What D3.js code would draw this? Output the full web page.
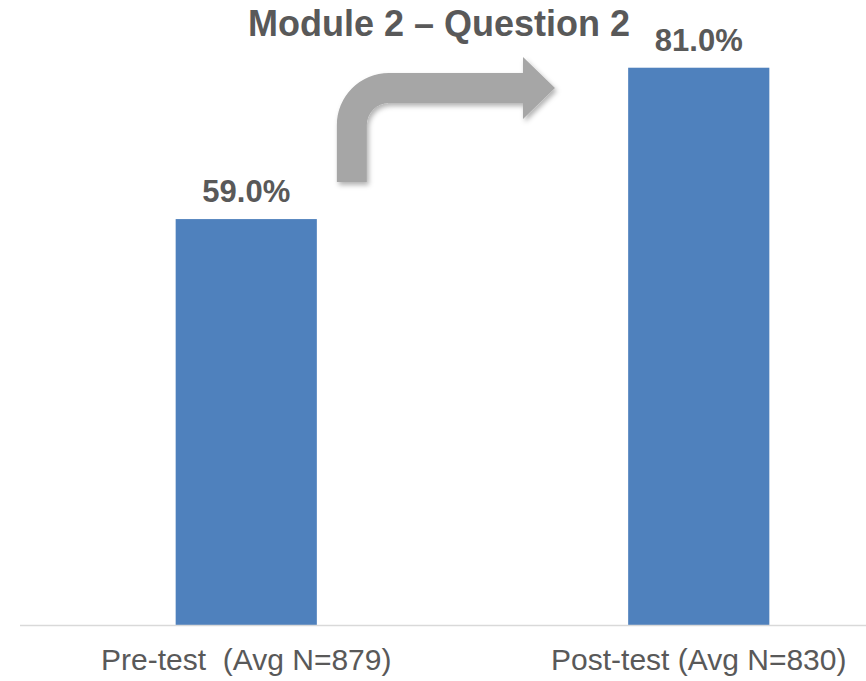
<!DOCTYPE html>
<html>
<head>
<meta charset="utf-8">
<script src="https://cdn.jsdelivr.net/npm/d3@7"></script>
<style>
  html, body { margin: 0; padding: 0; background: #fff; overflow: hidden; }
  svg { display: block; font-family: Arial, "Liberation Sans", sans-serif; }
</style>
</head>
<body>
<svg id="chart" width="866" height="681"></svg>
<script>
// --- Data ---
const categories = ["Pre-test  (Avg N=879)", "Post-test (Avg N=830)"];
const scores = [59.0, 81.0];
const title = "Module 2 \u2013 Question 2";

const svg = d3.select("#chart");
const textColor = "#595959";
const barColor = "#4f81bd";

// plot area runs past the right edge (the original was cropped)
const x = d3.scaleBand().domain(categories).range([20, 925]).paddingInner(0.688).paddingOuter(0.344);
const y = d3.scaleLinear().domain([0, 100]).range([625, -63]);

const data = categories.map((c, i) => ({ cat: c, val: scores[i] }));

// shadow for the arrow
const defs = svg.append("defs");
const f = defs.append("filter").attr("id", "shadow").attr("x", "-20%").attr("y", "-20%").attr("width", "140%").attr("height", "140%");
f.append("feDropShadow").attr("dx", 2).attr("dy", 3).attr("stdDeviation", 2.5).attr("flood-color", "#000").attr("flood-opacity", 0.3);

// --- Bars ---
svg.append("g")
  .selectAll("rect")
  .data(data)
  .join("rect")
  .attr("x", (d) => x(d.cat))
  .attr("y", (d) => y(d.val))
  .attr("width", x.bandwidth())
  .attr("height", (d) => y(0) - y(d.val))
  .attr("fill", barColor);

// baseline
svg.append("line")
  .attr("x1", 20).attr("x2", 866)
  .attr("y1", y(0) + 0.5).attr("y2", y(0) + 0.5)
  .attr("stroke", "#d9d9d9")
  .attr("stroke-width", 1.5);

// --- Value labels ---
svg.append("g")
  .selectAll("text")
  .data(data)
  .join("text")
  .attr("x", (d) => x(d.cat) + x.bandwidth() / 2)
  .attr("y", (d) => y(d.val) - 17)
  .attr("text-anchor", "middle")
  .attr("font-size", 31)
  .attr("font-weight", "bold")
  .attr("fill", textColor)
  .text((d) => d.val.toFixed(1) + "%");

// --- Category labels ---
svg.append("g")
  .selectAll("text")
  .data(categories)
  .join("text")
  .attr("x", (d) => x(d) + x.bandwidth() / 2)
  .attr("y", 670)
  .attr("text-anchor", "middle")
  .attr("font-size", 30)
  .attr("fill", textColor)
  .style("white-space", "pre")
  .attr("xml:space", "preserve")
  .text((d) => d);

// --- Title ---
svg.append("text")
  .attr("x", 439)
  .attr("y", 36)
  .attr("text-anchor", "middle")
  .attr("font-size", 36)
  .attr("font-weight", "bold")
  .attr("fill", textColor)
  .text(title);

// --- Bent arrow from pre-test to post-test ---
const x0 = x(categories[0]) + x.bandwidth() + 20; // left edge of shaft
const w = 30;                                       // shaft width
const yBottom = 182;
const yTop = 73;                                    // top edge of horizontal shaft
const R = 52, r = R - w;
const headX = 523, tipX = 555, headHalf = 31;
const cy = yTop + w / 2;

const p = d3.path();
p.moveTo(x0, yBottom);
p.lineTo(x0, yTop + R);
p.arcTo(x0, yTop, x0 + R, yTop, R);
p.lineTo(headX, yTop);
p.lineTo(headX, cy - headHalf);
p.lineTo(tipX, cy);
p.lineTo(headX, cy + headHalf);
p.lineTo(headX, yTop + w);
p.lineTo(x0 + w + r, yTop + w);
p.arcTo(x0 + w, yTop + w, x0 + w, yTop + w + r, r);
p.lineTo(x0 + w, yBottom);
p.closePath();

svg.append("path")
  .attr("d", p.toString())
  .attr("fill", "#a6a6a6")
  .attr("filter", "url(#shadow)");
</script>
</body>
</html>
